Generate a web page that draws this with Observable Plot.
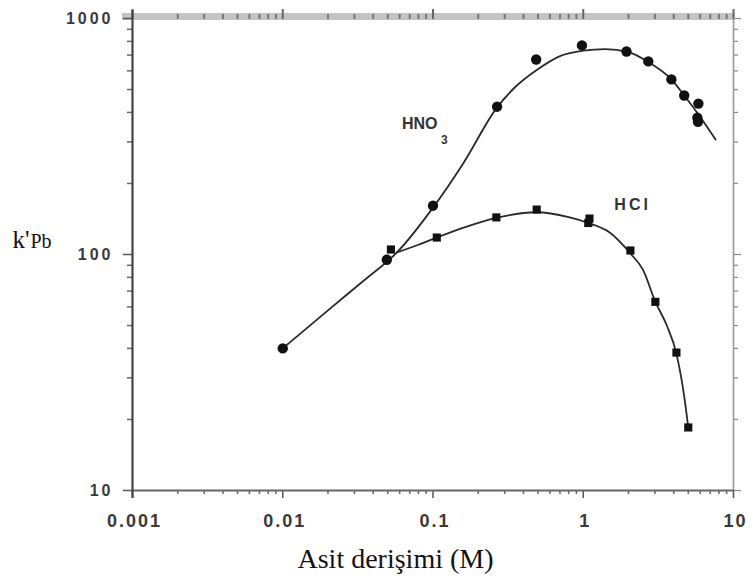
<!DOCTYPE html>
<html><head><meta charset="utf-8">
<script src="https://cdn.jsdelivr.net/npm/d3@7"></script>
<script src="https://cdn.jsdelivr.net/npm/@observablehq/plot@0.6"></script>
<style>
body{margin:0;background:#fff}
#chart svg{display:block}
g[font-family^="Liberation Sans"] text{letter-spacing:2px}
g[font-family^="DejaVu Sans"] text{letter-spacing:3px}
g[font-family^="Helvetica"] text{letter-spacing:3px}
</style>
</head><body><div id="chart"></div>
<script>
// HNO3 measured points (circles)
const hno3X = [0.01, 0.0493, 0.1, 0.267, 0.486, 0.98, 1.94, 2.71, 3.86, 4.7, 5.84, 5.75, 5.8];
const hno3Y = [40, 95, 161, 423, 670, 769, 725, 658, 552, 472, 436, 380, 365];
// HCl measured points (squares)
const hclX = [0.0525, 0.106, 0.264, 0.49, 1.08, 1.1, 2.06, 3.02, 4.17, 5.0];
const hclY = [105, 118, 143.6, 155, 136, 142, 104, 63, 38.4, 18.5];
// drawn fitted curves
const hno3CurveX = [0.01, 0.02, 0.035, 0.0575, 0.1, 0.16, 0.267, 0.35, 0.49, 0.7, 1, 1.4, 2, 2.7, 3.86, 4.7, 5.8, 7.6];
const hno3CurveY = [40, 58, 78, 102, 158, 245, 420, 510, 605, 693, 731, 742, 720, 655, 552, 472, 395, 307];
const hclCurveX = [0.0575, 0.08, 0.106, 0.16, 0.264, 0.49, 0.8, 1.08, 1.5, 2.06, 2.5, 3.02, 3.6, 4.17, 4.7, 5.0];
const hclCurveY = [102, 110, 118, 130, 143, 151, 144, 136, 124, 101, 86, 63, 50, 38, 25, 18.5];
// axes
const xTickValues = [0.001, 0.01, 0.1, 1, 10];
const xTickLabels = ["0.001", "0.01", "0.1", "1", "10"];
const yTickValues = [10, 100, 1000];
const yTickLabels = ["10", "100", "1000"];
const minorMultipliers = [2, 3, 4, 5, 6, 7, 8, 9];
// series labels
const seriesLabelText = ["HNO", "3", "HCl"];
const seriesLabelX = [0.0621, 0.113, 1.61];
const seriesLabelY = [356, 304, 163];
const xTitle = "Asit derişimi (M)";
const yTitleMain = "k'";
const yTitleSub = "Pb";

const hno3 = hno3X.map((x, i) => ({x, y: hno3Y[i]}));
const hcl = hclX.map((x, i) => ({x, y: hclY[i]}));
const hno3Curve = hno3CurveX.map((x, i) => ({x, y: hno3CurveY[i]}));
const hclCurve = hclCurveX.map((x, i) => ({x, y: hclCurveY[i]}));
const xMinor = xTickValues.slice(0, -1).flatMap(d => minorMultipliers.map(m => d * m));
const yMinor = yTickValues.slice(0, -1).flatMap(d => minorMultipliers.map(m => d * m));
const xTicks = xTickValues.map((v, i) => ({v, l: xTickLabels[i]}));
const yTicks = yTickValues.map((v, i) => ({v, l: yTickLabels[i]}));
const hno3Label = [0, 1].map(i => ({x: seriesLabelX[i], y: seriesLabelY[i], t: seriesLabelText[i]}));
const hclLabel = [{x: seriesLabelX[2], y: seriesLabelY[2], t: seriesLabelText[2]}];

const blank = () => "";
const sans = "Liberation Sans, Arial, sans-serif";
const serif = "Liberation Serif, Times New Roman, serif";

const chart = Plot.plot({
  width: 752, height: 581,
  marginLeft: 132, marginRight: 19, marginTop: 18, marginBottom: 91,
  x: {type: "log", domain: [0.001, 10], axis: null},
  y: {type: "log", domain: [10, 1000], axis: null},
  style: {background: "#fff", overflow: "visible"},
  marks: [
    // top grey band with ticks
    Plot.ruleY([1000], {stroke: "#c4c4c4", strokeWidth: 7, dy: -2, insetLeft: -10, insetRight: -2}),
    Plot.axisX(xMinor, {anchor: "top", tickSize: 5, tickFormat: blank, stroke: "#777", strokeWidth: 2, label: null}),
    Plot.axisX(xTickValues, {anchor: "top", tickSize: 10, tickFormat: blank, stroke: "#666", strokeWidth: 2, label: null}),
    // bottom axis
    Plot.axisX(xMinor, {anchor: "bottom", tickSize: 4, tickFormat: blank, stroke: "#666", strokeWidth: 1.5, label: null}),
    Plot.axisX(xTickValues, {anchor: "bottom", tickSize: 8, tickFormat: blank, stroke: "#555", strokeWidth: 1.5, label: null}),
    // left axis
    Plot.axisY(yMinor, {anchor: "left", tickSize: 5, tickFormat: blank, stroke: "#666", strokeWidth: 1.5, label: null}),
    Plot.axisY(yTickValues, {anchor: "left", tickSize: 9, tickFormat: blank, stroke: "#555", strokeWidth: 1.5, label: null}),
    // right axis
    Plot.axisY(yMinor, {anchor: "right", tickSize: 4, tickFormat: blank, stroke: "#888", strokeWidth: 1.2, label: null}),
    Plot.axisY(yTickValues, {anchor: "right", tickSize: 7, tickFormat: blank, stroke: "#888", strokeWidth: 1.2, label: null}),
    // frame lines
    Plot.ruleY([10], {stroke: "#666", strokeWidth: 1.8}),
    Plot.ruleX([0.001], {stroke: "#444", strokeWidth: 2.2, insetBottom: -8, insetTop: -8}),
    Plot.ruleX([10], {stroke: "#999", strokeWidth: 1.6}),
    // tick labels
    Plot.text(xTicks, {x: "v", text: "l", frameAnchor: "bottom", dy: 36, dx: 2, fontSize: 18, fontWeight: "bold", fill: "#3a3a3a", fontFamily: sans}),
    Plot.text(yTicks, {y: "v", text: "l", frameAnchor: "left", textAnchor: "end", dx: -19, fontSize: 16, fontWeight: "bold", fill: "#3a3a3a", fontFamily: "DejaVu Sans Bold, Arial, sans-serif", lineAnchor: "middle"}),
    // fitted curves
    Plot.line(hno3Curve, {x: "x", y: "y", curve: "monotone-x", stroke: "#2a2a2a", strokeWidth: 1.8}),
    Plot.line(hclCurve, {x: "x", y: "y", curve: "monotone-x", stroke: "#2a2a2a", strokeWidth: 1.8}),
    // points
    Plot.dot(hno3, {x: "x", y: "y", r: 5.2, fill: "#111"}),
    Plot.dot(hcl, {x: "x", y: "y", r: 4.6, symbol: "square", fill: "#111"}),
    // series labels
    Plot.text(hno3Label.slice(0, 1), {x: "x", y: "y", text: "t", textAnchor: "start", fontSize: 16, fontWeight: "bold", fill: "#333", fontFamily: "Arial, sans-serif"}),
    Plot.text(hno3Label.slice(1), {x: "x", y: "y", text: "t", textAnchor: "start", fontSize: 12, fontWeight: "bold", fill: "#333", fontFamily: "Arial, sans-serif"}),
    Plot.text(hclLabel, {x: "x", y: "y", text: "t", textAnchor: "start", fontSize: 16, fontWeight: "bold", fill: "#333", fontFamily: "Helvetica, Arial, sans-serif"}),
    // axis titles
    Plot.text([xTitle], {frameAnchor: "bottom-left", dx: 297 - 132, dy: 77, textAnchor: "start", lineAnchor: "bottom", fontSize: 28, fill: "#111", fontFamily: serif}),
    Plot.text([yTitleMain], {frameAnchor: "top-left", dx: 12 - 132, dy: 229, textAnchor: "start", lineAnchor: "bottom", fontSize: 25, fill: "#111", fontFamily: serif}),
    Plot.text([yTitleSub], {frameAnchor: "top-left", dx: 30 - 132, dy: 229, textAnchor: "start", lineAnchor: "bottom", fontSize: 20, fill: "#111", fontFamily: serif})
  ]
});
document.getElementById("chart").appendChild(chart);
</script>
</body></html>
